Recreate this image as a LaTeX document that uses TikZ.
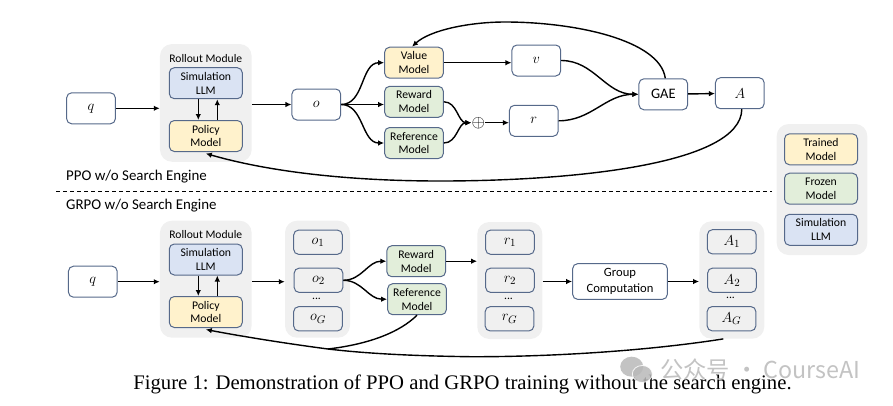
\documentclass[tikz,border=0pt]{standalone}
\usepackage{fontspec}
\setmainfont{Carlito}
\newfontfamily\capfont{Liberation Serif}
\newfontfamily\cjkfont{Noto Sans CJK SC}
\usetikzlibrary{
    positioning,
    arrows.meta
    }
\definecolor{boxline}{HTML}{56698A}
\definecolor{trained}{HTML}{FFF2CC}
\definecolor{frozen}{HTML}{E2EEDA}
\definecolor{simllm}{HTML}{DAE3F3}
\definecolor{panelgray}{HTML}{F0F0F0}
\definecolor{markgray}{HTML}{B8B8B8}

\begin{document}
\begin{tikzpicture}[x=1pt, y=-1pt]
\tikzset{panel/.style =
        {
            rectangle,
            rounded corners=12pt,
            fill=panelgray,
            inner sep=0pt
        }
}

\tikzset{box/.style =
        {
            rectangle,
            rounded corners=5pt,
            line width=1pt,
            draw=boxline,
            fill=white,
            align=center,
            inner sep=0pt,
            minimum width=48.7pt,
            minimum height=31pt,
            font=\fontsize{11.7}{13.8}\selectfont
        }
}

\tikzset{small box/.style =
        {
            box,
            minimum height=24.3pt,
            fill=panelgray
        }
}

\tikzset{model/.style =
        {
            box,
            minimum width=58.7pt
        }
}

\tikzset{wide/.style = { minimum width=73pt } }
\tikzset{train/.style = { fill=trained } }
\tikzset{freeze/.style = { fill=frozen } }
\tikzset{sim/.style = { fill=simllm } }
\tikzset{symbol/.style = { font=\fontsize{15.5}{15.5}\selectfont } }

\tikzset{caption text/.style =
        {
            inner sep=0pt,
            anchor=west,
            font=\fontsize{14.9}{16}\selectfont
        }
}

\tikzset{move/.style = {
            line width=1.4pt,
            -{Latex[length=6pt,width=5.5pt]}
        }
}

\tikzset{feed/.style = {
            line width=1.4pt
        }
}

\useasboundingbox (0,0) rectangle (893,405);

% panels first
\node[panel, minimum width=91.7pt, minimum height=117.7pt] (rollout-a) at (205.8,102.9) {};
\node[panel, minimum width=90.6pt, minimum height=131pt] (legend) at (822,189.5) {};
\node[panel, minimum width=91.7pt, minimum height=117pt] (rollout-b) at (205.8,279.2) {};
\node[panel, minimum width=65pt, minimum height=117pt] (o-group) at (317.5,279.2) {};
\node[panel, minimum width=65pt, minimum height=117pt] (r-group) at (509.8,280.5) {};
\node[panel, minimum width=65pt, minimum height=117.4pt] (a-group) at (731.8,280) {};

\draw [dashed, dash pattern=on 4.2pt off 2.8pt, line width=0.9pt] (56,191.7) -- (772,191.7);
\node[caption text] (ppo label) at (66,177) {PPO w/o Search Engine};
\node[caption text] (grpo label) at (66,206) {GRPO w/o Search Engine};

\foreach \nm / \xx / \yy in
    {rollout-a/205.8/59, rollout-b/205.8/235}
\node[inner sep=0pt, font=\fontsize{11.6}{13}\selectfont] (\nm-title) at (\xx,\yy) {Rollout Module};

\begin{scope}[name prefix=ppo-]
    \node[box, symbol] (q) at (91,108.3) {$q$};
    \node[box, wide, sim] (sim) at (205.8,83.2) {Simulation\\LLM};
    \node[box, wide, train] (policy) at (205.8,136) {Policy\\Model};
    \node[box, symbol] (o) at (316.3,104.5) {$o$};
    \node[model, train] (value) at (414,62.7) {Value\\Model};
    \node[model, freeze] (reward) at (414,101.8) {Reward\\Model};
    \node[model, freeze] (reference) at (414,143) {Reference\\Model};
    \node[box, symbol] (v) at (536.3,60.5) {$v$};
    \node[box, symbol] (r) at (533.8,120.8) {$r$};
    \node[box, font=\fontsize{14.5}{15}\selectfont] (gae) at (663.3,94.3) {GAE};
    \node[box, symbol] (a) at (739.8,93.2) {$A$};
    \node[inner sep=0pt, font=\fontsize{18}{18}\selectfont] (sum) at (478.3,122.7) {$\oplus$};

    \draw [move] (q) -- (q -| rollout-a.west);
    \draw [move] ([xshift=-7.5pt]sim.south) -- ([xshift=-7.5pt]policy.north);
    \draw [move] ([xshift=11.5pt]policy.north) -- ([xshift=11.5pt]sim.south);
    \draw [move] (rollout-a.east |- o) -- (o);
    \draw [move] (o.east) to[out=0, in=180, looseness=1] (value.west);
    \draw [move] (o.east) -- (reward.west |- o.east);
    \draw [move] (o.east) to[out=0, in=180, looseness=1] (reference.west);
    \draw [move] (value) -- (v.west |- value);
    \draw [move] (reward.east) to[out=0, in=180, looseness=1] (sum.west);
    \draw [move] (reference.east) to[out=0, in=180, looseness=1] (sum.west);
    \draw [move] (sum.east) -- (r.west |- sum);
    \draw [move] (v.east) to[out=0, in=180, looseness=1] (gae.west);
    \draw [move] (r.east) to[out=0, in=180, looseness=1] (gae.west);
    \draw [move] (gae) -- (a);
    \draw [move] ([xshift=2pt]gae.north) .. controls (660,40) and (575,22) .. (505,22)
        .. controls (470,22) and (430,30) .. ([xshift=-2pt]value.north);
    \draw [move] ([xshift=2pt]a.south) .. controls (741,165) and (570,181) .. (440,181)
        .. controls (350,181) and (270,172) .. ([yshift=-1.5pt]policy.south);
\end{scope}

\begin{scope}[name prefix=grpo-]
    \node[box, symbol] (q) at (92.8,281.7) {$q$};
    \node[box, wide, sim] (sim) at (205.8,259.5) {Simulation\\LLM};
    \node[box, wide, train] (policy) at (205.8,312) {Policy\\Model};
    \node[model, freeze] (reward) at (416.2,261.2) {Reward\\Model};
    \node[model, freeze] (reference) at (417,299.2) {Reference\\Model};
    \node[box, minimum width=94.7pt, minimum height=35.7pt, font=\fontsize{12.6}{16}\selectfont] (group) at (620,281.5) {Group\\Computation};

    \foreach \nm / \xx / \yy / \lab in
        {o1/318/242.2/o_1,
            o2/318.5/280.3/o_2,
            oG/318/318.8/o_G,
            r1/510/242.2/r_1,
            r2/510/280.3/r_2,
            rG/509.5/318.8/r_G,
            a1/731.8/241.8/A_1,
            a2/732/280.2/A_2,
            aG/731.5/318.7/A_G}
    \node[small box, symbol] (\nm) at (\xx,\yy) {$\lab$};

    \foreach \nm / \xx / \yy in
        {dots o/316.5/299.3, dots r/508.5/299.3, dots a/730.5/298.3}
    \node[inner sep=0pt, font=\fontsize{11.7}{12}\selectfont] (\nm) at (\xx,\yy) {...};

    \coordinate (merge) at (328,349);

    \draw [move] (q) -- (q -| rollout-b.west);
    \draw [move] ([xshift=-7.5pt]sim.south) -- ([xshift=-7.5pt]policy.north);
    \draw [move] ([xshift=11.5pt]policy.north) -- ([xshift=11.5pt]sim.south);
    \draw [move] (rollout-b.east |- q) -- (o-group.west |- q);
    \draw [move] (o2.east) to[out=0, in=180, looseness=1] (reward.west);
    \draw [move] (o2.east) to[out=0, in=180, looseness=1] (reference.west);
    \draw [move] (reward) -- (r-group.west |- reward);
    \draw [move] (r-group.east |- group) -- (group);
    \draw [move] (group) -- (a-group.west |- group);
    \draw [feed] ([xshift=-8.5pt]a-group.south) .. controls (640,352) and (540,357) .. (470,356.7)
        .. controls (420,356) and (370,354) .. (merge);
    \draw [move] (merge) .. controls (290,344) and (245,337) .. ([yshift=-1.5pt]policy.south);
    \draw [feed] (reference.south) .. controls (400,332) and (370,344) .. (merge);
\end{scope}

\begin{scope}[name prefix=key-]
    \node[box, wide, train] (trained) at (821,149.3) {Trained\\Model};
    \node[box, wide, freeze] (frozen) at (821,188.7) {Frozen\\Model};
    \node[box, wide, sim] (simulation) at (821,229.8) {Simulation\\LLM};
\end{scope}

\node[inner sep=0pt, font={\capfont\fontsize{20.7}{24}\selectfont}] (caption) at (462.5,384.8)
    {Figure 1: Demonstration of PPO and GRPO training without the search engine.};

% watermark
\fill [markgray, opacity=0.85] (631.7,366.7) ellipse [x radius=11.5, y radius=10];
\fill [markgray, opacity=0.85, draw=white, line width=0.8pt] (642.3,374) ellipse [x radius=10, y radius=8.5];
\node[inner sep=0pt, text=markgray, text opacity=0.85, anchor=west, font={\cjkfont\fontsize{23.3}{26}\selectfont}] (watermark) at (660,370)
    {公众号\hspace{5pt}·\hspace{5pt}CourseAI};
\end{tikzpicture}
\end{document}
